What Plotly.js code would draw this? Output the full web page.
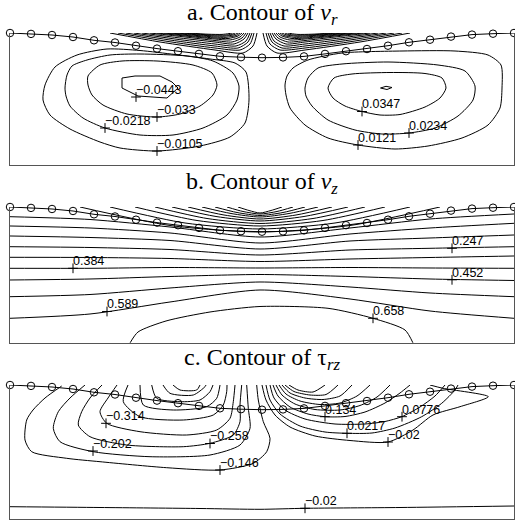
<!DOCTYPE html>
<html><head><meta charset="utf-8">
<script src="https://cdn.plot.ly/plotly-3.0.1.min.js"></script>
<style>html,body{margin:0;padding:0;background:#fff}#chart{width:515px;height:522px}</style>
</head><body><div id="chart"></div>
<script>
// ---------- shared free-surface nodes (r, z) ----------
const nodeR = [0,2.1,4.2,6.3,8.4,10.5,12.6,14.7,16.8,18.9,21,23.1,25.2,27.3,29.4,31.5,33.6,35.7,37.8,39.9,42,44.1,46.2,48.3,50.4];
const surfZ = [0,-0.09,-0.2,-0.4,-0.73,-0.95,-1.27,-1.56,-1.82,-2.09,-2.33,-2.42,-2.47,-2.44,-2.34,-2.09,-1.82,-1.6,-1.27,-0.93,-0.67,-0.36,-0.16,-0.07,0];

// ---------- panel a: v_r contour lines [r, z] ----------
const vrNeg0443 = [[11.2,-4.5],[12.5,-4.3],[15.0,-4.3],[16.2,-4.9],[16.8,-5.5],[15.7,-6.5],[12.8,-6.3],[11.2,-5.5],[11.2,-4.5]];
const vrNeg033 = [[7.8,-4.3],[9.0,-3.2],[11.2,-2.8],[14.7,-2.8],[18.3,-3.2],[20.2,-4.0],[20.7,-5.2],[20.3,-6.2],[19.0,-7.3],[17.0,-8.1],[14.7,-8.4],[11.7,-8.1],[9.3,-7.2],[8.2,-6.2],[7.8,-5.2],[7.8,-4.3]];
const vrNeg0218 = [[5.5,-5.5],[5.7,-4.2],[6.2,-3.3],[7.7,-2.7],[10.0,-2.2],[13.0,-2.1],[17.7,-2.3],[20.3,-2.8],[22.3,-4.0],[22.9,-5.3],[22.7,-6.7],[21.7,-8.2],[19.3,-9.5],[16.3,-10.2],[13.0,-10.2],[9.5,-9.5],[7.3,-8.5],[6.0,-7.3],[5.6,-6.3],[5.5,-5.5]];
const vrNeg0105 = [[3.3,-6.7],[3.5,-5.2],[4.5,-3.4],[6.7,-2.2],[9.7,-1.6],[13.0,-1.75],[16.5,-2.15],[20.0,-2.6],[22.5,-3.0],[23.6,-3.9],[23.9,-6.7],[23.5,-9.0],[22.0,-10.4],[19.0,-11.3],[14.7,-11.8],[11.0,-11.5],[9.0,-10.9],[6.0,-9.6],[4.0,-8.2],[3.3,-6.7]];
const vrPosMax = [[37.05,-5.5],[37.6,-5.33],[38.2,-5.45],[37.7,-5.65],[37.05,-5.5]];
const vrPos0347 = [[31.8,-5.5],[32.4,-4.5],[34.2,-4.1],[38.0,-3.95],[41.5,-4.05],[43.2,-4.5],[43.6,-5.5],[43.0,-6.5],[41.5,-7.4],[39.0,-8.15],[37.0,-8.2],[35.2,-7.85],[33.5,-7.3],[32.3,-6.5],[31.8,-5.5]];
const vrPos0234 = [[29.5,-5.5],[29.8,-4.5],[30.8,-3.5],[33.2,-3.1],[37.8,-2.9],[42.8,-3.2],[45.5,-3.8],[46.5,-5.3],[46.3,-6.7],[44.8,-8.3],[42.5,-9.5],[39.9,-10.0],[37.2,-10.1],[34.5,-9.7],[31.8,-8.7],[30.2,-7.3],[29.6,-6.3],[29.5,-5.5]];
const vrPos0121 = [[27.5,-5.2],[27.7,-4.3],[28.3,-3.5],[29.8,-2.7],[33.2,-2.0],[39.2,-1.8],[44.5,-1.8],[47.8,-2.2],[49.1,-3.2],[49.2,-5.5],[49.0,-7.5],[47.8,-9.2],[45.2,-10.5],[41.8,-11.3],[38.5,-11.6],[34.8,-11.2],[31.8,-10.5],[29.5,-9.2],[28.0,-7.5],[27.6,-6.2],[27.5,-5.2]];
// near-surface bundles
const vrFanL0 = [[10.0,0],[15.0,-0.9],[20.5,-1.7],[23.3,-2.0],[24.3,-1.3],[24.7,0]];
const vrFanL1 = [[10.8,0],[15.5,-0.8],[20.5,-1.5],[23.0,-1.7],[24.0,-1.1],[24.4,0]];
const vrFanL2 = [[11.6,0],[16.0,-0.7],[20.5,-1.3],[22.8,-1.5],[23.8,-0.9],[24.2,0]];
const vrFanL3 = [[12.4,0],[16.5,-0.6],[20.5,-1.1],[22.6,-1.3],[23.6,-0.8],[24.0,0]];
const vrFanL4 = [[13.2,0],[17.0,-0.5],[20.5,-0.9],[22.4,-1.1],[23.4,-0.6],[23.8,0]];
const vrFanL5 = [[14.0,0],[17.5,-0.4],[20.5,-0.75],[22.2,-0.9],[23.2,-0.5],[23.6,0]];
const vrFanL6 = [[14.7,0],[18.0,-0.35],[20.5,-0.6],[22.0,-0.7],[23.0,-0.4],[23.4,0]];
const vrFanL7 = [[15.4,0],[18.3,-0.3],[20.5,-0.5],[21.8,-0.55],[22.8,-0.3],[23.2,0]];
const vrFanL8 = [[16.0,0],[18.7,-0.25],[20.5,-0.4],[21.6,-0.43],[22.6,-0.25],[23.0,0]];
const vrFanL9 = [[16.6,0],[19.0,-0.2],[20.5,-0.3],[21.4,-0.32],[22.4,-0.18],[22.8,0]];
const vrFanL10 = [[17.2,0],[19.4,-0.16],[21.4,-0.22],[22.2,-0.12],[22.5,0]];
const vrFanL11 = [[17.8,0],[19.8,-0.12],[21.2,-0.14],[21.9,-0.06],[22.2,0]];
const vrFanR0 = [[40.0,0],[35.0,-0.9],[29.5,-1.7],[26.7,-2.0],[25.7,-1.3],[25.3,0]];
const vrFanR1 = [[39.2,0],[34.5,-0.8],[29.5,-1.5],[27.0,-1.7],[26.0,-1.1],[25.6,0]];
const vrFanR2 = [[38.4,0],[34.0,-0.7],[29.5,-1.3],[27.2,-1.5],[26.2,-0.9],[25.8,0]];
const vrFanR3 = [[37.6,0],[33.5,-0.6],[29.5,-1.1],[27.4,-1.3],[26.4,-0.8],[26.0,0]];
const vrFanR4 = [[36.8,0],[33.0,-0.5],[29.5,-0.9],[27.6,-1.1],[26.6,-0.6],[26.2,0]];
const vrFanR5 = [[36.0,0],[32.5,-0.4],[29.5,-0.75],[27.8,-0.9],[26.8,-0.5],[26.4,0]];
const vrFanR6 = [[35.3,0],[32.0,-0.35],[29.5,-0.6],[28.0,-0.7],[27.0,-0.4],[26.6,0]];
const vrFanR7 = [[34.6,0],[31.7,-0.3],[29.5,-0.5],[28.2,-0.55],[27.2,-0.3],[26.8,0]];
const vrFanR8 = [[34.0,0],[31.3,-0.25],[29.5,-0.4],[28.4,-0.43],[27.4,-0.25],[27.0,0]];
const vrFanR9 = [[33.4,0],[31.0,-0.2],[29.5,-0.3],[28.6,-0.32],[27.6,-0.18],[27.2,0]];
const vrFanR10 = [[32.8,0],[30.6,-0.16],[28.6,-0.22],[27.8,-0.12],[27.5,0]];
const vrFanR11 = [[32.2,0],[30.2,-0.12],[28.8,-0.14],[28.1,-0.06],[27.8,0]];
const vrLabText = ['−0.0443','−0.033','−0.0218','−0.0105','0.0347','0.0234','0.0121'];
const vrLabR = [12.6,14.7,9.5,14.7,35.2,39.9,34.8];
const vrLabZ = [-6.4,-8.4,-9.5,-11.8,-7.85,-10.0,-11.2];

// ---------- panel b: v_z contour lines ----------
const vzArc0 = [[7.0,0],[16.0,-1.85],[25.0,-2.5],[34.0,-1.85],[43.0,0]];
const vzArc1 = [[10.0,0],[17.5,-1.6],[25.0,-2.2],[32.5,-1.6],[40.0,0]];
const vzArc2 = [[12.5,0],[18.7,-1.35],[25.0,-1.9],[31.3,-1.35],[37.5,0]];
const vzArc3 = [[14.5,0],[19.7,-1.15],[25.0,-1.65],[30.3,-1.15],[35.5,0]];
const vzArc4 = [[16.2,0],[20.6,-0.95],[25.0,-1.4],[29.4,-0.95],[33.8,0]];
const vzArc5 = [[17.8,0],[21.4,-0.8],[25.0,-1.2],[28.6,-0.8],[32.2,0]];
const vzArc6 = [[19.2,0],[22.1,-0.65],[25.0,-1.0],[27.9,-0.65],[30.8,0]];
const vzArc7 = [[20.5,0],[22.7,-0.55],[25.0,-0.85],[27.3,-0.55],[29.5,0]];
const vzArc8 = [[21.7,0],[23.3,-0.45],[25.0,-0.7],[26.7,-0.45],[28.3,0]];
const vzArc9 = [[22.8,0],[23.9,-0.35],[25.0,-0.6],[26.1,-0.35],[27.2,0]];
const vzRowR = [0,8,16,25,34,42,50.4];
const vz041 = [-0.97,-1.25,-2.0,-3.0,-2.1,-1.2,-0.7];
const vz110 = [-1.9,-2.1,-2.6,-3.6,-2.7,-2.1,-1.63];
const vz178 = [-2.9,-3.05,-3.35,-4.2,-3.4,-3.1,-2.8];
const vz247 = [-3.97,-4.05,-4.25,-4.8,-4.3,-4.13,-3.97];
const vz315 = [-5.03,-5.05,-5.15,-5.45,-5.2,-5.05,-4.9];
const vz384 = [-6.13,-6.13,-6.05,-6.1,-6.05,-6.1,-6.13];
const vz452 = [-7.3,-7.2,-6.95,-6.75,-6.95,-7.2,-7.35];
const vz521 = [-8.97,-8.75,-8.1,-7.5,-8.0,-8.6,-8.97];
const vz589 = [-11.13,-10.7,-9.5,-8.3,-9.2,-10.4,-11.13];
const vz658 = [[12.0,-13.6],[12.8,-12.5],[15.6,-11.4],[20.0,-10.5],[25.0,-9.95],[31.8,-10.13],[36.3,-11.13],[39.5,-12.3],[40.3,-13.6]];
const vzLabText = ['0.247','0.384','0.452','0.589','0.658'];
const vzLabR = [44.2,6.3,44.2,9.7,36.3];
const vzLabZ = [-4.13,-6.13,-7.28,-10.45,-11.13];

// ---------- panel c: tau_rz contour lines ----------
const trzNeg146 = [[5.17,-0.1],[3.5,-1.3],[2.3,-2.5],[1.67,-3.5],[1.5,-5.5],[2.17,-6.67],[5.67,-7.33],[9.0,-7.67],[15.67,-8.27],[21.0,-8.5],[24.33,-7.83],[25.67,-6.67],[26.0,-5.33],[25.33,-3.67],[24.83,-1.5],[24.67,0]];
const trzNeg202 = [[7.5,0],[6.0,-1.3],[4.83,-2.67],[4.33,-4.33],[5.0,-5.67],[8.33,-6.67],[14.0,-7.17],[20.0,-7.0],[23.0,-6.0],[24.0,-4.33],[23.83,-2.33],[23.67,0]];
const trzNeg258 = [[9.2,0],[8.0,-1.3],[7.17,-2.67],[6.83,-4.0],[8.0,-5.17],[11.67,-6.0],[17.33,-6.17],[20.0,-5.83],[22.33,-5.0],[23.0,-3.67],[23.0,-2.0],[23.17,0]];
const trzNeg314 = [[10.7,0],[9.8,-1.3],[9.0,-2.67],[9.67,-3.83],[13.0,-4.67],[17.67,-5.0],[20.67,-4.5],[22.0,-3.33],[22.33,-1.67],[22.5,0]];
const trzNeg370 = [[11.8,0],[11.33,-1.67],[13.0,-3.17],[17.33,-3.5],[20.33,-3.0],[21.33,-2.0],[21.67,-0.67],[21.7,0]];
const trzNeg426 = [[13.0,0],[13.33,-2.0],[16.33,-2.5],[19.67,-2.17],[20.67,-1.33],[21.0,0]];
const trzNeg482 = [[14.17,0],[14.67,-1.33],[17.0,-1.67],[19.0,-1.5],[20.0,-0.67],[20.3,0]];
const trzNeg538 = [[15.3,0],[16.0,-0.83],[18.33,-1.0],[19.5,-0.17],[19.6,0]];
const trzNeg594 = [[16.3,0],[17.0,-0.5],[18.67,-0.5],[19.0,0]];
const trzNeg020 = [[25.2,0],[25.6,-1.5],[26.5,-3.0],[28.0,-4.2],[30.5,-5.1],[34.0,-5.55],[37.8,-5.7],[40.3,-4.5],[42.3,-3.0],[45.0,-2.17],[47.83,-1.17],[43.3,-0.33],[42.0,0]];
const trzPos0217 = [[25.6,0],[26.0,-1.5],[27.0,-2.9],[29.0,-4.1],[31.5,-4.7],[33.7,-4.83],[36.2,-4.8],[38.5,-4.3],[41.17,-3.17],[43.17,-1.83],[44.5,-0.5],[44.8,0]];
const trzPos0776 = [[26.0,0],[26.4,-1.3],[27.5,-2.5],[29.5,-3.4],[32.5,-3.9],[35.5,-3.9],[37.5,-3.65],[39.17,-3.17],[41.0,-2.2],[42.5,-1.1],[43.5,0]];
const trzPos134 = [[26.3,0],[26.8,-1.1],[28.0,-2.2],[29.8,-2.9],[31.5,-3.17],[33.5,-3.15],[35.5,-2.7],[37.5,-1.8],[39.0,-0.8],[40.0,0]];
const trzPos190 = [[26.6,0],[27.2,-1.0],[28.5,-1.9],[30.5,-2.45],[33.0,-2.5],[35.0,-2.05],[36.7,-1.2],[38.0,0]];
const trzPos246 = [[26.9,0],[27.6,-0.9],[29.0,-1.6],[31.0,-1.95],[33.0,-1.8],[34.7,-1.1],[36.0,0]];
const trzPos302 = [[27.2,0],[28.0,-0.8],[29.5,-1.3],[31.3,-1.45],[33.0,-1.1],[34.2,0]];
const trzPos358 = [[27.5,0],[28.4,-0.65],[30.0,-1.0],[31.6,-0.95],[32.8,0]];
const trzPos414 = [[27.9,0],[28.8,-0.5],[30.3,-0.7],[31.5,0]];
const trzBottom = [[0,-12.17],[9.0,-12.25],[19.0,-12.35],[25.0,-12.43],[29.5,-12.33],[39.0,-12.25],[50.4,-12.1]];
const trzLabText = ['−0.314','−0.202','−0.258','−0.146','0.134','0.0776','0.0217','−0.02','−0.02'];
const trzLabR = [9.6,8.3,20.0,21.0,31.5,39.2,33.7,37.8,29.5];
const trzLabZ = [-3.83,-6.6,-5.85,-8.5,-3.17,-3.17,-4.83,-5.7,-12.33];

// ---------- build traces ----------
const traces = [];
function line(pts, k, shape) {
  traces.push({type:'scatter', mode:'lines', x:pts.map(p=>p[0]), y:pts.map(p=>p[1]),
    xaxis:'x'+k, yaxis:'y'+k, hoverinfo:'skip', showlegend:false,
    line:{color:'#000', width:1, shape:shape||'spline', smoothing:0.7}});
}
function row(zs, k) { line(vzRowR.map((r,i)=>[r, zs[i]]), k); }
function surface(k) {
  traces.push({type:'scatter', mode:'lines+markers', x:nodeR, y:surfZ, xaxis:'x'+k, yaxis:'y'+k,
    cliponaxis:false, hoverinfo:'skip', showlegend:false,
    line:{color:'#000', width:1},
    marker:{symbol:'circle-open', size:7.5, color:'#000', line:{width:1, color:'#000'}}});
}
function labels(txt, rs, zs, k) {
  traces.push({type:'scatter', mode:'markers', x:rs, y:zs, xaxis:'x'+k, yaxis:'y'+k,
    cliponaxis:false, hoverinfo:'skip', showlegend:false,
    marker:{symbol:'cross-thin', size:7, color:'#000', line:{width:1, color:'#000'}}});
  traces.push({type:'scatter', mode:'text', x:rs, y:zs, text:txt, xaxis:'x'+k, yaxis:'y'+k,
    textposition:'top right', cliponaxis:false, hoverinfo:'skip', showlegend:false,
    textfont:{family:'Liberation Sans', size:12.5, color:'#000'}});
}
// panel a
line(vrNeg0443,'', 'linear'); line(vrNeg033,''); line(vrNeg0218,''); line(vrNeg0105,'');
line(vrPosMax,'', 'linear'); line(vrPos0347,''); line(vrPos0234,''); line(vrPos0121,'');
[vrFanL0,vrFanL1,vrFanL2,vrFanL3,vrFanL4,vrFanL5,vrFanL6,vrFanL7,vrFanL8,vrFanL9,vrFanL10,vrFanL11,
 vrFanR0,vrFanR1,vrFanR2,vrFanR3,vrFanR4,vrFanR5,vrFanR6,vrFanR7,vrFanR8,vrFanR9,vrFanR10,vrFanR11].forEach(p=>line(p,''));
surface(''); labels(vrLabText, vrLabR, vrLabZ, '');
// panel b
[vzArc0,vzArc1,vzArc2,vzArc3,vzArc4,vzArc5,vzArc6,vzArc7,vzArc8,vzArc9,vz658].forEach(p=>line(p,'2'));
[vz041,vz110,vz178,vz247,vz315,vz384,vz452,vz521,vz589].forEach(z=>row(z,'2'));
surface('2'); labels(vzLabText, vzLabR, vzLabZ, '2');
// panel c
[trzNeg146,trzNeg202,trzNeg258,trzNeg314,trzNeg370,trzNeg426,trzNeg482,trzNeg538,trzNeg594,
 trzNeg020,trzPos0217,trzPos0776,trzPos134,trzPos190,trzPos246,trzPos302,trzPos358,trzPos414,trzBottom].forEach(p=>line(p,'3'));
surface('3'); labels(trzLabText, trzLabR, trzLabZ, '3');

// ---------- layout ----------
const xBase = {range:[0,50.4], showgrid:false, zeroline:false, showticklabels:false, ticks:'',
  showline:true, linecolor:'#555', linewidth:1, fixedrange:true};
const yBase = {showgrid:false, zeroline:false, showticklabels:false, ticks:'',
  showline:true, mirror:true, linecolor:'#555', linewidth:1, fixedrange:true};
const TITLE_FONT = {family:'Liberation Serif', size:24, color:'#000'};
const layout = {
  width:515, height:522, margin:{l:10, r:1, t:0, b:0},
  paper_bgcolor:'#fff', plot_bgcolor:'#fff', showlegend:false,
  font:{family:'Liberation Sans'},
  xaxis: Object.assign({}, xBase, {anchor:'y'}),
  yaxis: Object.assign({}, yBase, {anchor:'x', range:[-13.17,0], domain:[0.68448,0.93678]}),
  xaxis2: Object.assign({}, xBase, {anchor:'y2'}),
  yaxis2: Object.assign({}, yBase, {anchor:'x2', range:[-13.57,0], domain:[0.34349,0.60345]}),
  xaxis3: Object.assign({}, xBase, {anchor:'y3'}),
  yaxis3: Object.assign({}, yBase, {anchor:'x3', range:[-13.43,0], domain:[0.00517,0.26245]}),
  annotations:[
    {text:'a. Contour of <i>v</i><sub><i>r</i></sub>', xref:'paper', yref:'paper', x:0.5, y:0.974, xanchor:'center', yanchor:'middle', showarrow:false, font:TITLE_FONT},
    {text:'b. Contour of <i>v</i><sub><i>z</i></sub>', xref:'paper', yref:'paper', x:0.5, y:0.6485, xanchor:'center', yanchor:'middle', showarrow:false, font:TITLE_FONT},
    {text:'c. Contour of τ<sub><i>rz</i></sub>', xref:'paper', yref:'paper', x:0.5, y:0.3123, xanchor:'center', yanchor:'middle', showarrow:false, font:TITLE_FONT}
  ]
};
Plotly.newPlot('chart', traces, layout, {staticPlot:true, displayModeBar:false});
</script>
</body></html>
